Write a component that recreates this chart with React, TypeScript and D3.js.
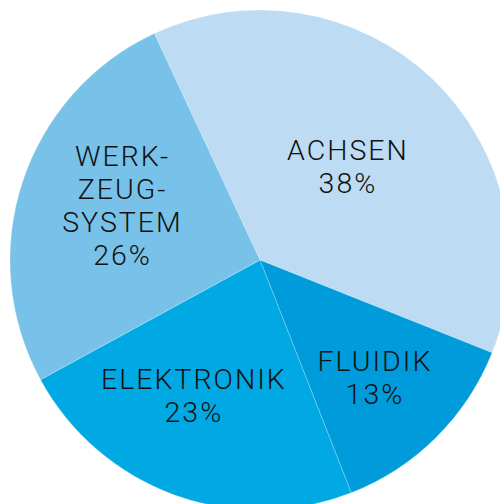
import React from "react";
import * as d3 from "d3";

const categories = ["ACHSEN", "FLUIDIK", "ELEKTRONIK", "WERK-\nZEUG-\nSYSTEM"];
const shares = [38, 13, 23, 26];
const colors = ["#bddcf3", "#009bdb", "#00a9e3", "#78c2ea"];
// where each label block sits: distance from centre and turn from the slice middle (deg)
const labelRadius = [128, 164, 151, 149];
const labelTurn = [-0.6, 0.8, 6.4, 3.4];

const width = 500;
const height = 504;
const cx = 260;
const cy = 260;
const radius = 250;
const lineHeight = 33;

export default function App() {
  const startAngle = (-25 * Math.PI) / 180;
  const pie = d3
    .pie<number>()
    .sort(null)
    .startAngle(startAngle)
    .endAngle(startAngle + 2 * Math.PI);
  const arcs = pie(shares);
  const arc = d3.arc<d3.PieArcDatum<number>>().innerRadius(0).outerRadius(radius);

  return (
    <svg
      width={width}
      height={height}
      style={{ position: "absolute", left: 0, top: 0, background: "#fff" }}
      fontFamily="Roboto, 'DejaVu Sans', sans-serif"
    >
      <g transform={`translate(${cx},${cy})`}>
        {arcs.map((d, i) => (
          <path
            key={i}
            d={arc(d) || ""}
            fill={colors[i]}
            stroke="#ffffff"
            strokeOpacity={0.35}
            strokeWidth={0.6}
          />
        ))}
        {arcs.map((d, i) => {
          const mid = (d.startAngle + d.endAngle) / 2 + (labelTurn[i] * Math.PI) / 180;
          const x = Math.sin(mid) * labelRadius[i];
          const y = -Math.cos(mid) * labelRadius[i];
          const lines = [...categories[i].split("\n"), `${shares[i]}%`];
          const top = y - ((lines.length - 1) * lineHeight) / 2;
          return (
            <text
              key={i}
              textAnchor="middle"
              fontSize={28.5}
              fontWeight={300}
              letterSpacing={2}
              fill="#111"
            >
              {lines.map((t, j) => (
                <tspan key={j} x={x + 1} y={top + j * lineHeight} dy="0.35em">
                  {t}
                </tspan>
              ))}
            </text>
          );
        })}
      </g>
    </svg>
  );
}
